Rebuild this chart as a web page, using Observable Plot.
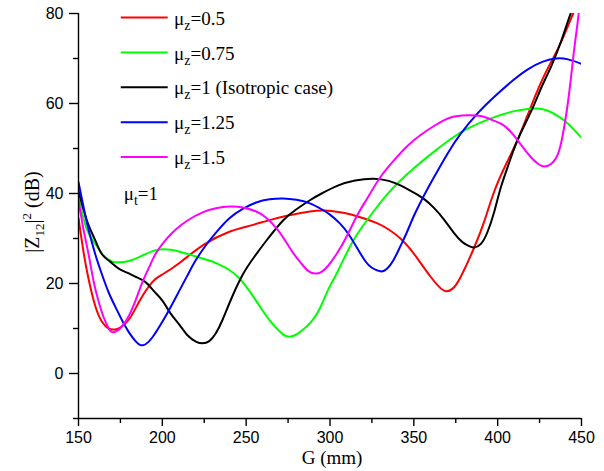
<!DOCTYPE html>
<html>
<head>
<meta charset="utf-8">
<script src="https://cdn.jsdelivr.net/npm/d3@7"></script>
<script src="https://cdn.jsdelivr.net/npm/@observablehq/plot@0.6"></script>
<style>
  html, body { margin: 0; padding: 0; background: #fff; }
  #chart svg { display: block; }
</style>
</head>
<body>
<div id="chart"></div>
<script>
// ---- data ----
const xTicks = [150, 200, 250, 300, 350, 400, 450];
const xMinorTicks = [175, 225, 275, 325, 375, 425];
const yTicks = [0, 20, 40, 60, 80];
const yMinorTicks = [-10, 10, 30, 50, 70];

const seriesNames = ["μz=0.5", "μz=0.75", "μz=1 (Isotropic case)", "μz=1.25", "μz=1.5"];
const seriesColors = ["#ff0000", "#00ff00", "#000000", "#0000ff", "#ff00ff"];

const redX = [150,153,156,160,164,168,172,176,181,187,194,200,210,225,240,250,265,275,288,297,305,312,320,328,335,342,348,354,360,365,369,373,378,386,392,398,405,412,419,426,432,438,445,450];
const redY = [34.5,27,21,15,11.5,10,9.8,10.5,12.5,16.5,20.3,22,24.5,28.7,31.5,32.6,34.2,35.1,36.0,36.2,35.9,35.4,34.5,33.4,32,30,27.6,24.6,21.5,19.3,18.3,18.8,21.5,28,33.8,40.5,46.5,52,58.5,64.8,69.3,73.8,80,84];

const greenX = [150,155,160,165,170,174,180,188,195,200,205,212,220,228,234,240,246,252,258,263,268,272,275,279,284,289,294,299,303,308,314,320,328,335,342,350,360,372,382,396,410,418,424,430,436,442,450];
const greenY = [39,32,28.8,26.2,24.9,24.7,25.0,26.2,27.3,27.6,27.5,26.9,26,25.1,24.2,23,21.1,18.3,15,12.3,10.1,8.7,8.2,8.5,9.8,11.6,14.5,18.7,21.5,25.3,29.6,33,37,40.2,42.9,45.6,48.7,52.1,54.4,56.7,58.3,58.8,58.9,58.4,57.2,55.5,52.4];

const blackX = [150,155,160,164,169,174,179,184,190,195,200,205,210,215,220,224,228,232,236,241,248,255,262,272,280,288,295,305,315,326,335,342,350,356,362,368,374,379,383,386,390,394,398,402,407,412,420,426,432,438,444,450];
const blackY = [40.5,34,29.6,26.5,24.8,23.3,22.4,21.5,20.3,18.3,16.2,13.3,10.9,8.5,7.1,6.7,7.2,9,12,16.5,22,26,29.5,34,36.5,38.5,40,41.8,42.9,43.3,42.8,41.8,40.2,38.8,36.8,34.2,31.2,29.2,28.3,28,28.8,31.5,36,41.5,47,52,58.3,63.5,68.3,74,80.5,86];

const blueX = [150,153,156,160,164,168,172,176,180,184,187,190,194,200,205,210,215,220,226,232,240,248,256,264,272,280,288,295,300,306,311,316,321,325,330,334,338,342,346,350,356,362,370,378,388,398,409,418,427,435,442,450];
const blueY = [42.5,37,32,26.5,22,18,14.8,11.8,9.2,7.2,6.3,6.5,8,11.5,14.8,18.3,21.8,25.2,28.5,31.3,34.5,36.6,38,38.7,38.9,38.6,37.8,36.5,35.3,33.3,31,28,25,23.5,22.7,23.3,25.3,28.3,31.5,35,39.5,43.6,48.8,53.3,57.8,61.5,65.1,67.6,69.3,70,69.8,68.8];

const magentaX = [150,153,156,159,162,165,168,170,173,176,180,184,188,192,196,202,208,215,224,232,240,248,256,262,268,273,278,283,287,291,295,299,304,310,316,322,330,338,346,354,362,372,382,390,397,403,409,415,420,424,428,432,435,438,442,445,447,449,450];
const magentaY = [38.5,32,26.5,20.5,16,12.5,10,9.2,9.5,10.5,12.8,16.2,20.2,23.5,26.6,29.7,32,34,35.8,36.7,37.1,36.9,36,34.6,32.3,29.7,26.8,24.4,22.8,22.2,22.6,24,26.6,30.5,35,38.8,43.6,47.3,50.5,53,55,56.9,57.4,57.2,56.3,55.3,53.2,50.3,48,46.6,46,46.6,48,51.5,60.5,70,76,82,85];

// ---- build tables ----
const seriesXs = [redX, greenX, blackX, blueX, magentaX];
const seriesYs = [redY, greenY, blackY, blueY, magentaY];
const tables = seriesXs.map((xs, i) => xs.map((x, j) => ({x, y: seriesYs[i][j]})));

// legend layout (in data units)
const legendTop = 79.1, legendStep = 7.75;
const legendRows = seriesNames.map((name, i) => ({
  name, color: seriesColors[i], y: legendTop - i * legendStep
}));

const serif = "'Liberation Serif', 'Times New Roman', serif";

const plot = Plot.plot({
  width: 604,
  height: 471,
  marginLeft: 78,
  marginRight: 23,
  marginTop: 13,
  marginBottom: 53,
  style: {fontFamily: "'Liberation Sans', Arial, sans-serif", fontSize: "16px", background: "#fff", color: "#000"},
  x: {domain: [150, 450], label: null},
  y: {domain: [-10, 80], label: null},
  marks: [
    ...tables.map((t, i) => Plot.line(t, {x: "x", y: "y", stroke: seriesColors[i], strokeWidth: 2, curve: "natural", clip: true})),
    Plot.ruleX([150], {y1: -10, y2: 80, stroke: "#000", strokeWidth: 1.4}),
    Plot.ruleY([-10], {x1: 150, x2: 450, stroke: "#000", strokeWidth: 1.4}),
    Plot.axisX({ticks: xTicks, tickSize: 8, tickPadding: 5, tickFormat: d => String(d), label: null, strokeWidth: 1.4}),
    Plot.axisX({ticks: xMinorTicks, tickSize: 5, tickFormat: () => "", label: null, strokeWidth: 1.4}),
    Plot.axisY({ticks: yTicks, tickSize: 9, tickPadding: 6, tickFormat: d => String(d), label: null, strokeWidth: 1.4}),
    Plot.axisY({ticks: yMinorTicks, tickSize: 5, tickFormat: () => "", label: null, strokeWidth: 1.4}),
    // legend
    Plot.ruleY(legendRows, {y: "y", x1: 175.5, x2: 203.5, stroke: "color", strokeWidth: 2}),
    Plot.text(legendRows, {x: 207, y: "y", text: "name", textAnchor: "start", fontFamily: serif, fontSize: 19, dy: 1}),
    Plot.text(["μt=1"], {x: 177, y: 40.2, text: d => d, textAnchor: "start", fontFamily: serif, fontSize: 19, dy: 1})
  ]
});

// subscripts in the legend and annotation
d3.select(plot).selectAll("text").each(function() {
  const t = d3.select(this);
  const s = this.textContent;
  const m = s.match(/^μ([zt])(.*)$/);
  if (m && this.childNodes.length === 1) {
    t.text("μ");
    t.append("tspan").attr("font-size", 14).attr("dy", 5).text(m[1]);
    t.append("tspan").attr("dy", -5).text(m[2]);
  }
});

// axis titles
const svg = d3.select(plot);
const yt = svg.append("text")
  .attr("transform", "translate(39,212) rotate(-90)")
  .attr("text-anchor", "middle")
  .attr("font-family", serif)
  .attr("font-size", 20)
  .attr("fill", "#000");
yt.append("tspan").text("|Z");
yt.append("tspan").attr("font-size", 13).attr("dy", 5).text("12");
yt.append("tspan").attr("dy", -5).text("|");
yt.append("tspan").attr("font-size", 13).attr("dy", -8).text("2");
yt.append("tspan").attr("dy", 8).text(" (dB)");

svg.append("text")
  .attr("x", 332).attr("y", 464)
  .attr("text-anchor", "middle")
  .attr("font-family", serif)
  .attr("font-size", 19)
  .attr("fill", "#000")
  .text("G (mm)");

document.getElementById("chart").appendChild(plot);
</script>
</body>
</html>
